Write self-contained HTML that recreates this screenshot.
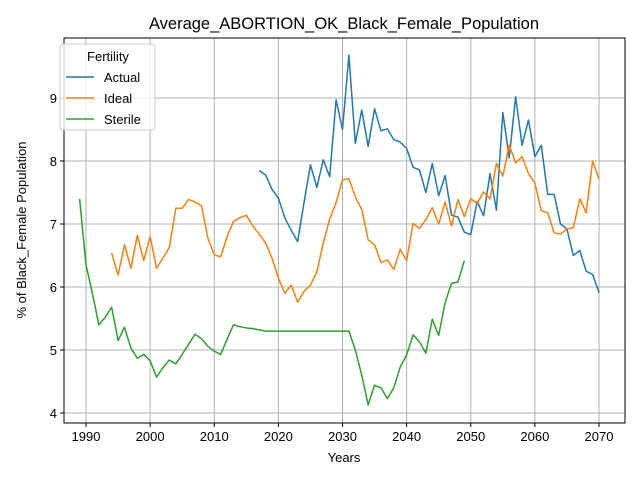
<!DOCTYPE html>
<html><head><meta charset="utf-8"><style>body{margin:0;background:#fff}svg{font-family:"Liberation Sans","DejaVu Sans",sans-serif}</style></head>
<body>
<svg id="chart" width="640" height="480"></svg>
<script>
const actualStart=2017;
const actual=[7.85,7.78,7.55,7.41,7.1,6.9,6.72,7.34,7.94,7.58,8.02,7.75,8.97,8.5,9.68,8.28,8.81,8.23,8.83,8.48,8.51,8.34,8.3,8.2,7.9,7.86,7.5,7.96,7.45,7.77,7.14,7.11,6.87,6.83,7.36,7.13,7.8,7.22,8.77,8.05,9.02,8.25,8.65,8.07,8.25,7.47,7.47,7.0,6.92,6.5,6.58,6.25,6.2,5.91];
const idealStart=1994;
const ideal=[6.54,6.19,6.67,6.3,6.82,6.42,6.8,6.3,6.46,6.63,7.25,7.25,7.39,7.35,7.29,6.78,6.51,6.48,6.8,7.04,7.1,7.14,6.97,6.84,6.7,6.46,6.14,5.9,6.03,5.76,5.93,6.03,6.24,6.7,7.08,7.34,7.7,7.72,7.43,7.23,6.75,6.67,6.39,6.43,6.28,6.6,6.42,7.01,6.93,7.07,7.26,7.0,7.35,6.97,7.39,7.12,7.4,7.33,7.51,7.4,7.96,7.76,8.25,7.97,8.07,7.8,7.65,7.21,7.18,6.86,6.84,6.92,6.94,7.4,7.18,8.0,7.71];
const sterileStart=1989;
const sterile=[7.4,6.35,5.9,5.4,5.52,5.68,5.15,5.36,5.03,4.87,4.93,4.83,4.57,4.72,4.84,4.78,4.93,5.09,5.25,5.18,5.06,4.98,4.93,5.17,5.4,5.37,5.35,5.34,5.32,5.3,5.3,5.3,5.3,5.3,5.3,5.3,5.3,5.3,5.3,5.3,5.3,5.3,5.3,5.0,4.6,4.13,4.44,4.4,4.23,4.4,4.73,4.92,5.24,5.13,4.95,5.49,5.23,5.75,6.06,6.08,6.42];
const xTicks=[1990,2000,2010,2020,2030,2040,2050,2060,2070];
const yTicks=[4,5,6,7,8,9];
const L=64,R=625,T=38,B=423;
const X=y=>86+(y-1990)*6.4125;
const Y=v=>98+(9-v)*63;
const NS='http://www.w3.org/2000/svg';
const svg=document.getElementById('chart');
function mk(t,a,p){const e=document.createElementNS(NS,t);for(const k in a)e.setAttribute(k,a[k]);(p||svg).appendChild(e);return e;}
const grid=mk('g',{});


xTicks.forEach(t=>{mk('line',{x1:X(t),x2:X(t),y1:T,y2:B,stroke:'#b0b0b0','stroke-width':1},grid);
 mk('line',{x1:X(t),x2:X(t),y1:B,y2:B+4,stroke:'#000'});
 const tx=mk('text',{x:X(t),y:B+18,'font-size':13,'text-anchor':'middle'});tx.textContent=t;
 
 });
yTicks.forEach(t=>{mk('line',{x1:L,x2:R,y1:Y(t),y2:Y(t),stroke:'#b0b0b0','stroke-width':1},grid);
 mk('line',{x1:L-4,x2:L,y1:Y(t),y2:Y(t),stroke:'#000'});
 const tx=mk('text',{x:L-7,y:Y(t)+5,'font-size':13,'text-anchor':'end'});tx.textContent=t;
 
 });
function series(arr,start,color,name){const pts=arr.map((v,i)=>X(start+i).toFixed(2)+','+Y(v).toFixed(2)).join(' ');
 const p=mk('polyline',{points:pts,fill:'none',stroke:color,'stroke-width':1.5,'stroke-linejoin':'round'});
 
 }
series(actual,actualStart,'#1f77b4','actual-line');
series(ideal,idealStart,'#ff7f0e','ideal-line');
series(sterile,sterileStart,'#2ca02c','sterile-line');
const fr=mk('rect',{x:L,y:T,width:R-L,height:B-T,fill:'none',stroke:'#000','stroke-width':1});


</script>
<svg width="640" height="480" style="position:absolute;left:0;top:0">
<text x="344" y="29" font-size="16.5" text-anchor="middle">Average_ABORTION_OK_Black_Female_Population</text>
<text x="344" y="462" font-size="13" text-anchor="middle">Years</text>
<text transform="translate(26,230) rotate(-90)" font-size="13" text-anchor="middle">% of Black_Female Population</text>
<g>
<rect x="60" y="44" width="95" height="86" rx="3" fill="#fff" fill-opacity="0.8" stroke="#ccc"/>
<text x="108" y="61" font-size="13" text-anchor="middle">Fertility</text>
<line x1="66" x2="94" y1="77" y2="77" stroke="#1f77b4" stroke-width="1.5"/><text x="104" y="82" font-size="13">Actual</text>
<line x1="66" x2="94" y1="98" y2="98" stroke="#ff7f0e" stroke-width="1.5"/><text x="104" y="103" font-size="13">Ideal</text>
<line x1="66" x2="94" y1="119" y2="119" stroke="#2ca02c" stroke-width="1.5"/><text x="104" y="124" font-size="13">Sterile</text>
</g>
</svg>
</body></html>
